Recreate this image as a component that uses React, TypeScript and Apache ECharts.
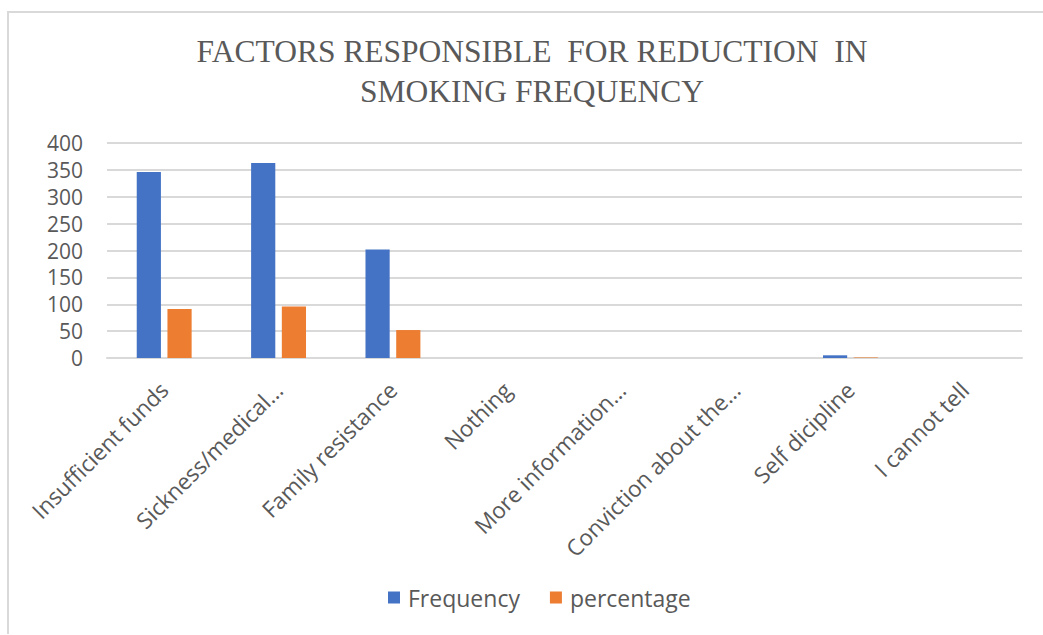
import React, { useEffect, useRef } from "react";
import * as echarts from "echarts";

const categories = [
  "Insufficient funds",
  "Sickness/medical…",
  "Family resistance",
  "Nothing",
  "More information…",
  "Conviction about the…",
  "Self dicipline",
  "I cannot tell",
];
const frequency = [346, 363, 202, 0, 0, 0, 5, 0];
const percentage = [91, 96, 52, 0, 0, 0, 1, 0];
const yTicks = { min: 0, max: 400, interval: 50 };
const titleText = "FACTORS RESPONSIBLE  FOR REDUCTION  IN\nSMOKING FREQUENCY";

export default function App() {
  const ref = useRef<HTMLDivElement>(null);
  useEffect(() => {
    document.body.style.margin = "0";
    const chart = echarts.init(ref.current!, null, { renderer: "svg" });
    const grey = "#595959";
    const font = "'Open Sans', 'Liberation Sans', sans-serif";
    chart.setOption({
      animation: false,
      backgroundColor: "#ffffff",
      graphic: [
        { type: "line", shape: { x1: 7, y1: 12, x2: 1043, y2: 12 }, style: { stroke: "#d9d9d9", lineWidth: 2 } },
        { type: "line", shape: { x1: 8, y1: 12, x2: 8, y2: 634 }, style: { stroke: "#d9d9d9", lineWidth: 2 } },
        {
          type: "text",
          x: 532,
          y: 31,
          style: {
            text: titleText,
            align: "center",
            verticalAlign: "top",
            fontFamily: "'Liberation Serif', 'DejaVu Serif', serif",
            fontSize: 31.5,
            lineHeight: 40,
            fill: grey,
          },
        },
      ],
      legend: {
        bottom: 21,
        left: 383,
        itemWidth: 12,
        itemHeight: 12,
        itemGap: 30,
        icon: "rect",
        textStyle: { fontFamily: font, fontSize: 23, color: grey, padding: [0, 0, 0, 3] },
        data: ["Frequency", "percentage"],
      },
      grid: { left: 107, right: 21, top: 143, bottom: 277, containLabel: false },
      xAxis: {
        type: "category",
        data: categories,
        axisLine: { lineStyle: { color: "#d9d9d9", width: 2 } },
        axisTick: { show: false },
        axisLabel: {
          rotate: 45,
          interval: 0,
          margin: 28,
          fontFamily: font,
          fontSize: 22.5,
          color: grey,
        },
      },
      yAxis: {
        type: "value",
        min: yTicks.min,
        max: yTicks.max,
        interval: yTicks.interval,
        axisLine: { show: false },
        axisTick: { show: false },
        splitLine: { lineStyle: { color: "#d9d9d9", width: 2 } },
        axisLabel: { margin: 24, fontFamily: font, fontSize: 21, color: grey },
      },
      series: [
        {
          name: "Frequency",
          type: "bar",
          data: frequency,
          barGap: "27%",
          barCategoryGap: "52%",
          itemStyle: { color: "#4472C4" },
        },
        {
          name: "percentage",
          type: "bar",
          data: percentage,
          itemStyle: { color: "#ED7D31" },
        },
      ],
    });
    return () => chart.dispose();
  }, []);
  return (
    <div
      ref={ref}
      style={{ position: "absolute", left: 0, top: 0, width: 1043, height: 635 }}
    />
  );
}
